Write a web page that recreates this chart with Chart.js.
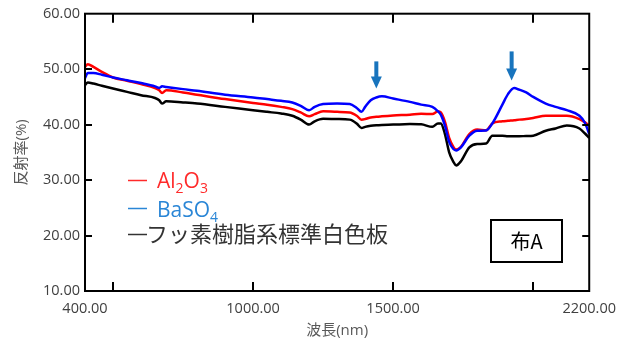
<!DOCTYPE html>
<html>
<head>
<meta charset="utf-8">
<script src="https://cdn.jsdelivr.net/npm/chart.js@4.4.1/dist/chart.umd.min.js"></script>
<style>
html, body { margin: 0; padding: 0; background: #fff; }
</style>
</head>
<body>
<canvas id="myChart" width="625" height="347"></canvas>
<script>
// 波長(nm)
var wavelength = [400, 410, 430, 460, 500, 550, 600, 650, 665, 675, 690, 750, 800, 900, 1000, 1050, 1100, 1140, 1170, 1200,
  1220, 1250, 1300, 1345, 1370, 1387, 1400, 1420, 1440, 1460, 1500, 1560, 1600, 1640, 1660, 1670, 1685, 1700, 1715, 1725,
  1742, 1772, 1800, 1832, 1854, 1890, 1910, 1932, 1950, 1975, 2000, 2045, 2080, 2120, 2165, 2185, 2200];
// 反射率(%)
var al2o3 = [50.4, 50.9, 50.4, 49.5, 48.5, 47.9, 47.3, 46.6, 46.2, 45.7, 46.2, 45.8, 45.4, 44.6, 43.9, 43.6, 43.2, 42.8, 42.2, 41.5,
  41.9, 42.4, 42.3, 42.2, 41.6, 40.9, 41.0, 41.3, 41.4, 41.5, 41.65, 41.8, 41.95, 41.9, 42.4, 42.2, 40.5, 37.6, 36.0, 35.5,
  36.0, 38.3, 39.1, 39.0, 40.2, 40.6, 40.7, 40.8, 40.9, 41.0, 41.2, 41.6, 41.6, 41.6, 41.0, 40.4, 39.8];
var baso4 = [48.4, 49.3, 49.3, 49.0, 48.5, 48.0, 47.5, 46.9, 46.6, 46.9, 46.8, 46.4, 46.1, 45.4, 44.9, 44.6, 44.3, 44.0, 43.4, 42.6,
  43.2, 43.7, 43.8, 43.7, 43.0, 42.3, 43.2, 44.4, 44.9, 45.1, 44.7, 44.1, 43.6, 43.2, 42.4, 41.8, 39.8, 36.9, 35.6, 35.35,
  35.9, 38.0, 38.9, 38.95, 40.2, 43.6, 45.5, 46.6, 46.3, 45.8, 45.0, 43.8, 43.2, 42.6, 41.6, 40.3, 38.3];
var ptfe = [47.1, 47.6, 47.4, 47.0, 46.5, 45.9, 45.3, 44.8, 44.4, 43.8, 44.2, 44.0, 43.8, 43.2, 42.6, 42.3, 42.0, 41.6, 40.9, 40.0,
  40.6, 41.05, 41.0, 40.9, 40.2, 39.4, 39.6, 39.8, 39.9, 39.95, 40.0, 40.1, 40.05, 39.6, 40.2, 40.2, 38.3, 35.0, 33.3, 32.65,
  33.4, 35.9, 36.5, 36.6, 38.0, 38.0, 37.9, 37.9, 37.9, 37.95, 38.0, 38.9, 39.3, 39.85, 39.3, 38.4, 37.6];

var xLabels = [400, 1000, 1500, 2200];
var xTickMarks = [500, 1000, 1500, 2000];
var yTicks = [10, 20, 30, 40, 50, 60];
// 矢印 [波長, 先端, 根元]
var arrows = [[1440, 46.5, 51.4], [1923, 47.95, 53.2]];

var FONT = "'Open Sans', 'Noto Sans CJK JP', sans-serif";
var JP = "'Noto Sans CJK JP', sans-serif";

function toPoints(vals) {
  return vals.map(function (v, i) { return { x: wavelength[i], y: v }; });
}

function richText(ctx, x, y, parts, color) {
  ctx.fillStyle = color;
  ctx.textBaseline = 'alphabetic';
  ctx.textAlign = 'left';
  parts.forEach(function (p) {
    if (p[1]) {
      ctx.font = '14px ' + FONT;
      ctx.fillText(p[0], x, y + 5);
    } else {
      ctx.font = '21px ' + FONT;
      ctx.fillText(p[0], x, y);
    }
    x += ctx.measureText(p[0]).width;
  });
}

var decor = {
  id: 'decor',
  afterDraw: function (chart) {
    var ctx = chart.ctx;
    var xs = chart.scales.x, ys = chart.scales.y;
    var a = chart.chartArea;
    ctx.save();
    // 枠
    ctx.strokeStyle = '#000';
    ctx.lineWidth = 2;
    ctx.strokeRect(a.left, a.top, a.right - a.left, a.bottom - a.top);
    // 内向き目盛
    ctx.lineWidth = 2;
    ctx.beginPath();
    xTickMarks.forEach(function (v) {
      var px = Math.round(xs.getPixelForValue(v));
      ctx.moveTo(px, a.bottom); ctx.lineTo(px, a.bottom - 9);
      ctx.moveTo(px, a.top); ctx.lineTo(px, a.top + 9);
    });
    yTicks.slice(1, -1).forEach(function (v) {
      var py = Math.round(ys.getPixelForValue(v));
      ctx.moveTo(a.left, py); ctx.lineTo(a.left + 7, py);
      ctx.moveTo(a.right, py); ctx.lineTo(a.right - 7, py);
    });
    ctx.stroke();

    // 矢印
    ctx.fillStyle = '#1874bd';
    arrows.forEach(function (ar) {
      var px = xs.getPixelForValue(ar[0]);
      var tip = ys.getPixelForValue(ar[1]);
      var top = ys.getPixelForValue(ar[2]);
      ctx.fillRect(px - 2, top, 4, tip - top - 10);
      ctx.beginPath();
      ctx.moveTo(px - 5.5, tip - 12);
      ctx.lineTo(px + 5.5, tip - 12);
      ctx.lineTo(px, tip);
      ctx.closePath();
      ctx.fill();
    });

    // 凡例
    ctx.lineWidth = 1.5;
    ctx.strokeStyle = '#ff2a2a';
    ctx.beginPath(); ctx.moveTo(128, 180.5); ctx.lineTo(147, 180.5); ctx.stroke();
    richText(ctx, 157, 188, [['Al', 0], ['2', 1], ['O', 0], ['3', 1]], '#ff2a2a');
    ctx.strokeStyle = '#2a86d6';
    ctx.beginPath(); ctx.moveTo(128, 208.5); ctx.lineTo(147, 208.5); ctx.stroke();
    richText(ctx, 157, 216.5, [['BaSO', 0], ['4', 1]], '#2a86d6');
    ctx.strokeStyle = '#333';
    ctx.beginPath(); ctx.moveTo(128, 234.5); ctx.lineTo(147, 234.5); ctx.stroke();
    ctx.fillStyle = '#333';
    ctx.font = '22px ' + JP;
    ctx.fillText('フッ素樹脂系標準白色板', 146, 242);

    // 布A
    ctx.lineWidth = 2;
    ctx.strokeStyle = '#000';
    ctx.strokeRect(491, 220, 71, 42);
    ctx.fillStyle = '#000';
    ctx.font = '20px ' + JP;
    ctx.textAlign = 'center';
    ctx.textBaseline = 'middle';
    ctx.fillText('布A', 526.5, 241);
    ctx.restore();
  }
};

var ctx = document.getElementById('myChart').getContext('2d');
var myChart = new Chart(ctx, {
  type: 'line',
  data: {
    datasets: [
      { label: 'BaSO4', data: toPoints(baso4), borderColor: '#0000ff' },
      { label: 'Al2O3', data: toPoints(al2o3), borderColor: '#ff0000' },
      { label: 'フッ素樹脂系標準白色板', data: toPoints(ptfe), borderColor: '#000000' }
    ]
  },
  options: {
    responsive: false,
    animation: false,
    devicePixelRatio: 1,
    layout: { padding: { top: 13, right: 35, left: 0, bottom: 0 } },
    elements: {
      point: { radius: 0 },
      line: { borderWidth: 2.5, cubicInterpolationMode: 'monotone', fill: false }
    },
    plugins: { legend: { display: false }, tooltip: { enabled: false } },
    scales: {
      x: {
        type: 'linear',
        min: 400,
        max: 2200,
        grid: { display: false, drawTicks: false },
        border: { display: false },
        afterBuildTicks: function (scale) {
          scale.ticks = [400, 500, 1000, 1500, 2000, 2200].map(function (v) { return { value: v }; });
        },
        afterFit: function (scale) { scale.height = 56; },
        ticks: {
          autoSkip: false,
          maxRotation: 0,
          padding: 9,
          color: '#404040',
          font: { family: FONT, size: 14.5 },
          callback: function (v) { return xLabels.indexOf(v) >= 0 ? v.toFixed(2) : ''; }
        },
        title: {
          display: true,
          text: '波長(nm)',
          color: '#595959',
          font: { family: FONT, size: 15 },
          padding: { top: 0, bottom: 7 }
        }
      },
      y: {
        min: 10,
        max: 60,
        grid: { display: false, drawTicks: false },
        border: { display: false },
        afterBuildTicks: function (scale) {
          scale.ticks = yTicks.map(function (v) { return { value: v }; });
        },
        afterFit: function (scale) { scale.width = 85; },
        ticks: {
          padding: 5,
          color: '#404040',
          font: { family: FONT, size: 14.5 },
          callback: function (v) { return v.toFixed(2); }
        },
        title: {
          display: true,
          text: '反射率(%)',
          color: '#595959',
          font: { family: FONT, size: 15 },
          padding: { top: 13, bottom: 0 }
        }
      }
    }
  },
  plugins: [decor]
});
</script>
</body>
</html>
